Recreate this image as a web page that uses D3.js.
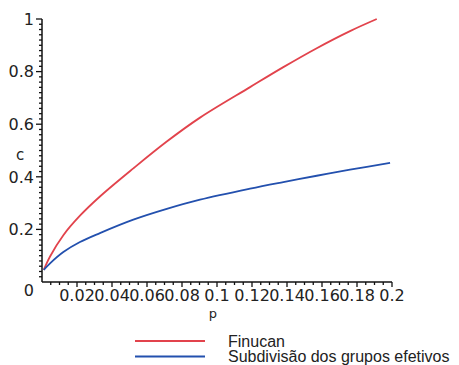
<!DOCTYPE html>
<html>
<head>
<meta charset="utf-8">
<script src="https://cdn.jsdelivr.net/npm/d3@7"></script>
<style>
  body { margin: 0; background: #fff; }
  svg { display: block; }
  text { fill: #222; }
</style>
</head>
<body>
<div id="chart"></div>
<script>
// values
const pFinucan = [0.001, 0.0046, 0.0122, 0.0217, 0.0331, 0.0522, 0.0713, 0.0903, 0.1189, 0.1379, 0.157, 0.176, 0.1913];
const cFinucan = [0.046, 0.097, 0.178, 0.252, 0.325, 0.432, 0.534, 0.625, 0.741, 0.817, 0.889, 0.954, 1.0];
const pSubdiv = [0.001, 0.0046, 0.0122, 0.0217, 0.0331, 0.0522, 0.0713, 0.0903, 0.1189, 0.1379, 0.157, 0.176, 0.1989];
const cSubdiv = [0.046, 0.071, 0.114, 0.152, 0.186, 0.237, 0.278, 0.313, 0.355, 0.380, 0.404, 0.427, 0.453];

const xTicks = [0.02, 0.04, 0.06, 0.08, 0.1, 0.12, 0.14, 0.16, 0.18, 0.2];
const yTicks = [0.2, 0.4, 0.6, 0.8, 1];
const seriesNames = ['Finucan', 'Subdivisão dos grupos efetivos'];
const seriesColors = ['#e2434c', '#2350ae'];

const width = 459, height = 365;

const svg = d3.select('#chart').append('svg')
  .attr('width', width)
  .attr('height', height);

const x = d3.scaleLinear().domain([0, 0.2]).range([42, 392]);
const y = d3.scaleLinear().domain([0, 1]).range([282, 19]);

const tickFont = 'DejaVu Sans, sans-serif';

// y axis, minor tick every 0.02
const yAxis = svg.append('g').attr('stroke', '#111');
yAxis.append('line')
  .attr('x1', x(0)).attr('x2', x(0))
  .attr('y1', y(0)).attr('y2', y(1))
  .attr('stroke-width', 1.5);
yAxis.selectAll('line.tick')
  .data(d3.range(1, 51))
  .join('line')
  .attr('class', 'tick')
  .attr('x1', x(0))
  .attr('x2', d => x(0) - (d % 10 === 0 ? 6 : 3))
  .attr('y1', d => y(d * 0.02)).attr('y2', d => y(d * 0.02))
  .attr('stroke-width', 1.3);

svg.append('g')
  .selectAll('text')
  .data(yTicks)
  .join('text')
  .attr('x', 34)
  .attr('y', d => y(d))
  .attr('dy', '0.36em')
  .attr('text-anchor', 'end')
  .style('font-family', tickFont)
  .style('font-size', '16px')
  .text(d => d === 1 ? '1' : d3.format('.1f')(d));

svg.append('text')
  .attr('x', 34).attr('y', 290).attr('dy', '0.36em')
  .attr('text-anchor', 'end')
  .style('font-family', tickFont)
  .style('font-size', '16px')
  .text('0');

// x axis, minor tick every 0.005
const xAxis = svg.append('g').attr('stroke', '#111');
xAxis.append('line')
  .attr('x1', x(0)).attr('x2', x(0.2))
  .attr('y1', y(0)).attr('y2', y(0))
  .attr('stroke-width', 1.5);
xAxis.selectAll('line.tick')
  .data(d3.range(1, 41))
  .join('line')
  .attr('class', 'tick')
  .attr('x1', d => x(d * 0.005)).attr('x2', d => x(d * 0.005))
  .attr('y1', y(0)).attr('y2', d => y(0) + (d % 4 === 0 ? 5 : 3))
  .attr('stroke-width', 1.3);

svg.append('g')
  .selectAll('text')
  .data(xTicks)
  .join('text')
  .attr('x', d => x(d))
  .attr('y', 301)
  .attr('text-anchor', 'middle')
  .style('font-family', tickFont)
  .style('font-size', '16px')
  .text(d => d3.format('~g')(d));

// axis titles
svg.append('text')
  .attr('x', 20).attr('y', 155).attr('dy', '0.36em')
  .attr('text-anchor', 'middle')
  .style('font-family', tickFont)
  .style('font-size', '15px')
  .text('c');
svg.append('text')
  .attr('x', 213).attr('y', 318)
  .attr('text-anchor', 'middle')
  .style('font-family', tickFont)
  .style('font-size', '13px')
  .text('p');

// curves
const line = d3.line()
  .x(d => x(d[0]))
  .y(d => y(d[1]))
  .curve(d3.curveCatmullRom.alpha(0.5));

const series = [
  d3.zip(pFinucan, cFinucan),
  d3.zip(pSubdiv, cSubdiv)
];

svg.append('g')
  .selectAll('path')
  .data(series)
  .join('path')
  .attr('d', line)
  .attr('fill', 'none')
  .attr('stroke', (d, i) => seriesColors[i])
  .attr('stroke-width', 1.8);

// legend
const legend = svg.append('g')
  .selectAll('g')
  .data(seriesNames)
  .join('g')
  .attr('transform', (d, i) => `translate(0,${341 + i * 15.5})`);
legend.append('line')
  .attr('x1', 135).attr('x2', 205)
  .attr('stroke', (d, i) => seriesColors[i])
  .attr('stroke-width', 1.8);
legend.append('text')
  .attr('x', 228)
  .attr('dy', '0.36em')
  .style('font-family', 'Liberation Sans, Arial, sans-serif')
  .style('font-size', '16px')
  .text(d => d);
</script>
</body>
</html>
